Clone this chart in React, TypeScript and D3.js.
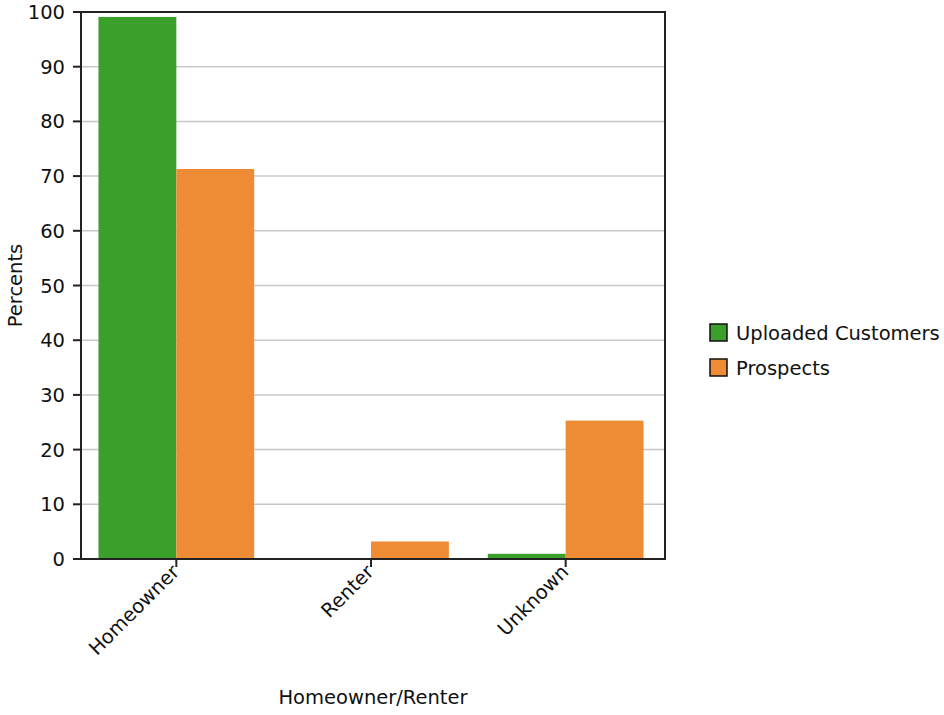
import React from "react";
import * as d3 from "d3";

const categories = ["Homeowner", "Renter", "Unknown"];
const seriesNames = ["Uploaded Customers", "Prospects"];
const uploaded = [99.1, 0, 0.95];
const prospects = [71.3, 3.2, 25.3];
const yTicks = [0, 10, 20, 30, 40, 50, 60, 70, 80, 90, 100];
const colors = ["#3aa02b", "#ee8c35"];

const W = 944, H = 715;
const left = 81, right = 665, top = 12, bottom = 559;
const FONT = "'DejaVu Sans', Verdana, sans-serif";
const FS = 19.5;

export default function App() {
  const x = d3.scaleBand().domain(categories).range([left - 2, right - 2]).paddingInner(0.2).paddingOuter(0.1);
  const x1 = d3.scaleBand().domain(seriesNames).range([0, x.bandwidth()]);
  const y = d3.scaleLinear().domain([0, 100]).range([bottom, top]);
  const series = [uploaded, prospects];
  return (
    <svg width={W} height={H} style={{ position: "absolute", left: 0, top: 0, background: "#fff" }} fontFamily={FONT}>
      <rect x={0} y={0} width={W} height={H} fill="#fff" />
      {yTicks.map((t) => (
        <line key={"g" + t} x1={left} x2={right} y1={y(t)} y2={y(t)} stroke="#c8c8c8" strokeWidth={1.5} />
      ))}
      {categories.map((c, i) =>
        series.map((s, j) => {
          const v = s[i];
          if (v <= 0) return null;
          return (
            <rect key={c + j} x={(x(c) as number) + (x1(seriesNames[j]) as number)} y={y(v)} width={x1.bandwidth()} height={y(0) - y(v)} fill={colors[j]} />
          );
        })
      )}
      <rect x={left} y={top} width={right - left} height={bottom - top} fill="none" stroke="#222" strokeWidth={2} />
      {yTicks.map((t) => (
        <g key={"t" + t}>
          <line x1={left - 8} x2={left} y1={y(t)} y2={y(t)} stroke="#222" strokeWidth={2} />
          <text x={left - 16} y={y(t)} dy="0.36em" textAnchor="end" fontSize={FS} fill="#111">{t}</text>
        </g>
      ))}
      {categories.map((c) => {
        const cx = (x(c) as number) + x.bandwidth() / 2;
        return (
          <g key={"c" + c}>
            <line x1={cx} x2={cx} y1={bottom} y2={bottom + 8} stroke="#222" strokeWidth={2} />
            <text transform={`translate(${cx + 4},${bottom + 14}) rotate(-45)`} textAnchor="end" fontSize={FS} fill="#111">{c}</text>
          </g>
        );
      })}
      <text x={(left + right) / 2} y={704} textAnchor="middle" fontSize={FS} fill="#111">Homeowner/Renter</text>
      <text transform={`translate(22,${(top + bottom) / 2}) rotate(-90)`} textAnchor="middle" fontSize={FS} fill="#111">Percents</text>
      {seriesNames.map((n, j) => (
        <g key={"l" + n}>
          <rect x={710} y={324 + j * 35} width={17} height={17} fill={colors[j]} stroke="#111" strokeWidth={1.5} />
          <text x={736} y={332.5 + j * 35} dy="0.36em" fontSize={FS} fill="#111">{n}</text>
        </g>
      ))}
    </svg>
  );
}
